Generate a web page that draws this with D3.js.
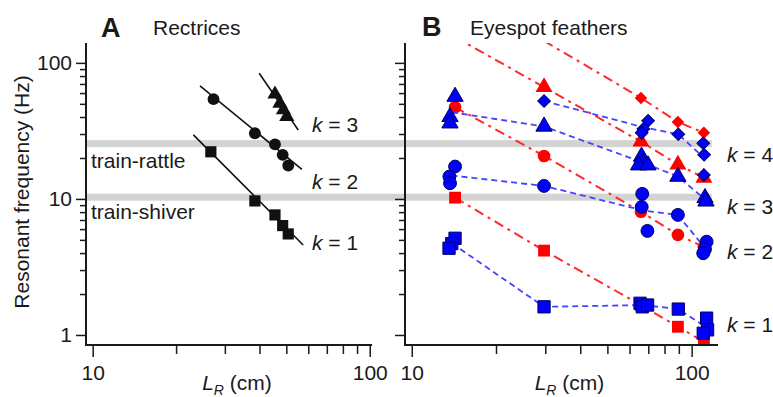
<!DOCTYPE html>
<html>
<head>
<meta charset="utf-8">
<script src="https://cdn.jsdelivr.net/npm/d3@7"></script>
<style>
body { margin: 0; background: #fff; }
text { font-family: 'Liberation Sans', Arial, Helvetica, sans-serif; fill: #1a1a1a; }
</style>
</head>
<body>
<div id="chart"></div>
<script>
// ---- data ----
const xTickLabels = [10, 100];
const xMinorTicks = [20, 30, 40, 50, 60, 70, 80, 90];
const yTickLabels = [1, 10, 100];
const yMinorTicks = [2, 3, 4, 5, 6, 7, 8, 9, 20, 30, 40, 50, 60, 70, 80, 90];
const bandFreqs = [10.3, 25.5];
const bandNames = ['train-shiver', 'train-rattle'];

// A: rectrices
const rectK1L = [26.7, 38.5, 45.5, 48.5, 50.8];
const rectK1F = [22.2, 9.67, 7.63, 6.37, 5.53];
const rectK2L = [27.3, 38.5, 45.5, 48.5, 50.8];
const rectK2F = [54.1, 30.4, 25.2, 21.1, 17.6];
const rectK3L = [45.5, 47.4, 48.8, 50.2];
const rectK3F = [58.9, 50.5, 45.1, 40.3];
const rectFitL = [[23.1, 57.5], [24.4, 56.9], [39.9, 55.2]];
const rectFitF = [[29.6, 4.59], [67.8, 16.5], [84.0, 32.1]];
const rectLabelF = [4.74, 13.4, 35.0];

// B: eyespot feathers
const eyeLengths = [14, 30, 67, 89, 111];
const blueK1L = [14.28, 13.9, 13.59, 29.69, 65.4, 66.6, 69.6, 89.6, 113.1, 114.0, 110.0];
const blueK1F = [5.14, 4.7, 4.34, 1.61, 1.71, 1.61, 1.66, 1.55, 1.33, 1.09, 1.03];
const blueK2L = [14.28, 13.63, 13.7, 29.69, 66.6, 66.3, 69.5, 89.3, 113.1, 111.6, 110.0];
const blueK2F = [17.3, 14.6, 13.04, 12.46, 10.9, 8.73, 5.82, 7.63, 4.85, 4.27, 3.99];
const blueK3L = [14.28, 13.7, 13.7, 29.69, 66.2, 67.0, 64.6, 69.8, 89.3, 111.6, 112.5];
const blueK3F = [56.5, 40.1, 36.0, 34.1, 20.5, 18.4, 17.7, 17.7, 14.6, 10.17, 9.6];
const blueK4L = [29.69, 69.9, 67.2, 66.3, 89.6, 110.0, 110.8, 110.6];
const blueK4F = [52.5, 37.5, 32.7, 30.6, 29.9, 25.7, 21.1, 15.0];
const redL = [14.28, 29.69, 65.9, 89.3, 110.6];
const redK1F = [10.22, 4.17, 1.66, 1.15, 0.89];
const redK2F = [47.2, 20.7, 8.06, 5.44, 4.44];
const redK3F = [155, 66.3, 26.4, 17.9, 14.3];
const redK4F = [null, 145, 55.3, 36.8, 30.6];
const eyeLabelF = [1.19, 4.1, 8.78, 21.1];

// ---- layout ----
const WIDTH = 773, HEIGHT = 397;
const PLOT_TOP = 43, PLOT_BOTTOM = 345;
const FONT = 21;
const BLUE = '#0000ff', BLUE_LINE = '#4444ff', BLUE_EDGE = '#00005a';
const RED = '#ff0000', RED_LINE = '#ff2a2a';

const svg = d3.select('#chart').append('svg')
	.attr('width', WIDTH)
	.attr('height', HEIGHT)
	.style('background', '#fff');

const yScale = d3.scaleLog().domain([0.844, 140]).range([PLOT_BOTTOM, PLOT_TOP]);
const xScaleA = d3.scaleLog().domain([9.46, 101.9]).range([86, 372]);
const xScaleB = d3.scaleLog().domain([9.46, 124.2]).range([405, 718]);

const zip = (xs, ys) => xs.map((x, i) => ({ L: x, f: ys[i] })).filter((d) => d.f != null);

const symbolPath = (shape, area) => {
	if (shape === 'diamond') return d3.symbol(d3.symbolSquare, area)();
	const type = { square: d3.symbolSquare, circle: d3.symbolCircle, triangle: d3.symbolTriangle }[shape];
	return d3.symbol(type, area)();
};

// grey frequency bands behind everything
svg.append('g').attr('class', 'bands')
	.selectAll('rect')
	.data(bandFreqs)
	.enter()
	.append('rect')
	.attr('x', xScaleA.range()[0])
	.attr('width', xScaleB(118) - xScaleA.range()[0])
	.attr('y', (d) => yScale(d) - 3.5)
	.attr('height', 7)
	.attr('fill', '#d3d3d3');

svg.append('g').selectAll('text.band-label')
	.data(bandNames)
	.enter()
	.append('text')
	.attr('class', 'band-label')
	.attr('x', 91)
	.attr('y', (d, i) => yScale(bandFreqs[i]) + (i === 0 ? 22 : 24))
	.attr('font-size', FONT)
	.text((d) => d);

function drawAxes(xScale, showYLabels) {
	const g = svg.append('g').attr('class', 'axes');
	const x0 = xScale.range()[0];

	// y axis
	g.append('g')
		.attr('transform', 'translate(' + x0 + ',0)')
		.call(d3.axisLeft(yScale).tickValues(yMinorTicks).tickSize(6).tickSizeOuter(0).tickFormat(''))
		.call((s) => s.select('.domain').remove());
	g.append('g')
		.attr('transform', 'translate(' + x0 + ',0)')
		.call(d3.axisLeft(yScale).tickValues(yTickLabels).tickSize(10).tickPadding(4)
			.tickFormat(showYLabels ? d3.format('d') : ''))
		.call((s) => s.select('.domain').remove());

	// x axis
	g.append('g')
		.attr('transform', 'translate(0,' + PLOT_BOTTOM + ')')
		.call(d3.axisBottom(xScale).tickValues(xMinorTicks).tickSize(9).tickSizeOuter(0).tickFormat(''))
		.call((s) => s.select('.domain').remove());
	g.append('g')
		.attr('transform', 'translate(0,' + PLOT_BOTTOM + ')')
		.call(d3.axisBottom(xScale).tickValues(xTickLabels).tickSize(12).tickPadding(8).tickFormat(d3.format('d')))
		.call((s) => s.select('.domain').remove());

	g.selectAll('.tick line').attr('stroke', '#1a1a1a').attr('stroke-width', 1.5);
	g.selectAll('.tick text')
		.attr('font-family', "'Liberation Sans', Arial, sans-serif")
		.attr('font-size', FONT)
		.attr('fill', '#1a1a1a');

	g.append('path')
		.attr('d', 'M' + x0 + ',' + PLOT_TOP + 'V' + PLOT_BOTTOM + 'H' + xScale.range()[1])
		.attr('fill', 'none')
		.attr('stroke', '#1a1a1a')
		.attr('stroke-width', 2);

	// x label  L_R (cm)
	const mid = (xScale.range()[0] + xScale.range()[1]) / 2 + 8;
	const t = g.append('text')
		.attr('x', mid)
		.attr('y', 390)
		.attr('text-anchor', 'middle')
		.attr('font-size', FONT);
	t.append('tspan').attr('font-style', 'italic').text('L');
	t.append('tspan').attr('font-style', 'italic').attr('font-size', 14).attr('dy', 5).text('R');
	t.append('tspan').attr('dy', -5).text(' (cm)');
}

function kLabels(x, freqs) {
	freqs.forEach((f, i) => {
		const t = svg.append('text')
			.attr('x', x)
			.attr('y', yScale(f))
			.attr('dy', '0.35em')
			.attr('font-size', FONT);
		t.append('tspan').attr('font-style', 'italic').text('k');
		t.append('tspan').text(' = ' + (i + 1));
	});
}

// ---- panel A ----
drawAxes(xScaleA, true);

const lineA = d3.line().x((d) => xScaleA(d.L)).y((d) => yScale(d.f));
svg.append('g').selectAll('path.fit')
	.data(rectFitL.map((ls, i) => zip(ls, rectFitF[i])))
	.enter()
	.append('path')
	.attr('class', 'fit')
	.attr('d', lineA)
	.attr('fill', 'none')
	.attr('stroke', '#111')
	.attr('stroke-width', 1.6);

const rectSeries = [
	{ shape: 'square', area: 125, pts: zip(rectK1L, rectK1F) },
	{ shape: 'circle', area: 110, pts: zip(rectK2L, rectK2F) },
	{ shape: 'triangle', area: 100, pts: zip(rectK3L, rectK3F) }
];
rectSeries.forEach((s) => {
	svg.append('g').selectAll('path')
		.data(s.pts)
		.enter()
		.append('path')
		.attr('d', symbolPath(s.shape, s.area))
		.attr('transform', (d) => 'translate(' + xScaleA(d.L) + ',' + yScale(d.f) + ')')
		.attr('fill', '#111');
});
kLabels(312, rectLabelF);

// ---- panel B ----
drawAxes(xScaleB, false);

svg.append('clipPath').attr('id', 'clip-b')
	.append('rect')
	.attr('x', xScaleB.range()[0])
	.attr('y', PLOT_TOP)
	.attr('width', xScaleB.range()[1] - xScaleB.range()[0])
	.attr('height', PLOT_BOTTOM - PLOT_TOP);

const plotB = svg.insert('g', '.axes:last-of-type').attr('clip-path', 'url(#clip-b)');
const lineB = d3.line().x((d) => xScaleB(d.L)).y((d) => yScale(d.f));
const inDomain = (d) => d.f <= yScale.domain()[1];

const redSeries = [
	{ shape: 'square', area: 140, pts: zip(redL, redK1F) },
	{ shape: 'circle', area: 125, pts: zip(redL, redK2F) },
	{ shape: 'triangle', area: 125, pts: zip(redL, redK3F) },
	{ shape: 'diamond', area: 78, pts: zip(redL, redK4F) }
];
const blueSeries = [
	{ shape: 'square', area: 150, pts: zip(blueK1L, blueK1F) },
	{ shape: 'circle', area: 130, pts: zip(blueK2L, blueK2F) },
	{ shape: 'triangle', area: 115, pts: zip(blueK3L, blueK3F) },
	{ shape: 'diamond', area: 80, pts: zip(blueK4L, blueK4F) }
];

// blue dashed line joins the geometric mean of each length group
const groupMeans = (pts) => {
	const nearest = (L) => d3.least(eyeLengths, (e) => Math.abs(Math.log(L / e)));
	const groups = d3.groups(pts, (d) => nearest(d.L)).sort((a, b) => a[0] - b[0]);
	return groups.map(([, g]) => ({
		L: Math.exp(d3.mean(g, (d) => Math.log(d.L))),
		f: Math.exp(d3.mean(g, (d) => Math.log(d.f)))
	}));
};

redSeries.forEach((s) => {
	plotB.append('path')
		.datum(s.pts)
		.attr('d', lineB)
		.attr('fill', 'none')
		.attr('stroke', RED_LINE)
		.attr('stroke-width', 2)
		.attr('stroke-dasharray', '10,5,3,5');
});
redSeries.forEach((s) => {
	plotB.append('g').selectAll('path')
		.data(s.pts.filter(inDomain))
		.enter()
		.append('path')
		.attr('d', symbolPath(s.shape, s.area))
		.attr('transform', (d) => 'translate(' + xScaleB(d.L) + ',' + yScale(d.f) + ')' + (s.shape === 'diamond' ? ' rotate(45)' : ''))
		.attr('fill', RED);
});
blueSeries.forEach((s) => {
	plotB.append('path')
		.datum(groupMeans(s.pts))
		.attr('d', lineB)
		.attr('fill', 'none')
		.attr('stroke', BLUE_LINE)
		.attr('stroke-width', 1.8)
		.attr('stroke-dasharray', '6,4');
});
blueSeries.forEach((s) => {
	plotB.append('g').selectAll('path')
		.data(s.pts)
		.enter()
		.append('path')
		.attr('d', symbolPath(s.shape, s.area))
		.attr('transform', (d) => 'translate(' + xScaleB(d.L) + ',' + yScale(d.f) + ')' + (s.shape === 'diamond' ? ' rotate(45)' : ''))
		.attr('fill', BLUE)
		.attr('stroke', BLUE_EDGE)
		.attr('stroke-width', 1);
});
kLabels(727, eyeLabelF);

// ---- titles ----
svg.append('text').attr('x', 101).attr('y', 37).attr('font-size', 27).attr('font-weight', 'bold').text('A');
svg.append('text').attr('x', 153).attr('y', 35).attr('font-size', FONT).text('Rectrices');
svg.append('text').attr('x', 422).attr('y', 36).attr('font-size', 27).attr('font-weight', 'bold').text('B');
svg.append('text').attr('x', 470).attr('y', 35).attr('font-size', FONT).text('Eyespot feathers');

svg.append('text')
	.attr('transform', 'translate(29,192) rotate(-90)')
	.attr('text-anchor', 'middle')
	.attr('font-size', FONT)
	.text('Resonant frequency (Hz)');
</script>
</body>
</html>
